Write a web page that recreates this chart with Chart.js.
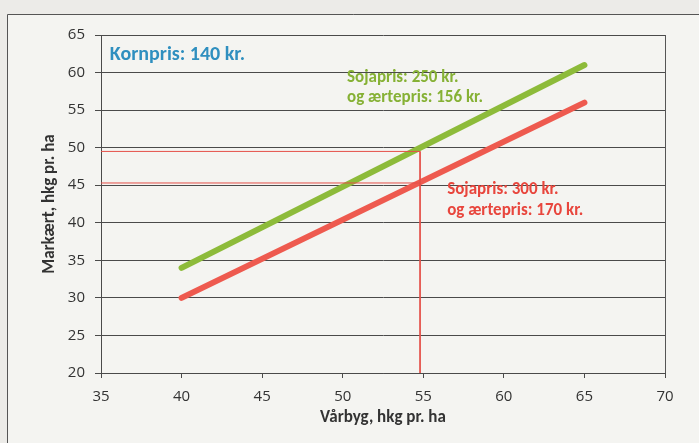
<!DOCTYPE html>
<html>
<head>
<meta charset="utf-8">
<script src="https://cdn.jsdelivr.net/npm/chart.js@4"></script>
<style>
  html, body { margin: 0; padding: 0; background: #ecebe8; }
  #wrap { width: 699px; height: 443px; position: relative; }
</style>
</head>
<body>
<div id="wrap"><canvas id="chart" width="699" height="443"></canvas></div>
<script>
// values
const varbyg = [40, 65];
const markaertLow = [34, 61];   // soja 250 / ærter 156
const markaertHigh = [30, 56];  // soja 300 / ærter 170
const guideX = [35, 54.8, 54.8];
const guideY = [49.5, 49.5, 20];
const guide2X = [35, 54.8];
const guide2Y = [45.3, 45.3];
const xTicks = [35, 40, 45, 50, 55, 60, 65, 70];
const yTicks = [20, 25, 30, 35, 40, 45, 50, 55, 60, 65];

const toPts = (xs, ys) => xs.map((x, i) => ({ x: x, y: ys[i] }));

const notes = [
  { text: "Kornpris: 140 kr.", x: 35.55, y: 62.3, color: "#2f8fbf", size: 20 },
  { text: "Sojapris: 250 kr.", x: 50.27, y: 59.3, color: "#86b135", size: 17 },
  { text: "og ærtepris: 156 kr.", x: 50.27, y: 56.6, color: "#86b135", size: 17 },
  { text: "Sojapris: 300 kr.", x: 56.48, y: 44.4, color: "#e8463d", size: 17 },
  { text: "og ærtepris: 170 kr.", x: 56.48, y: 41.6, color: "#e8463d", size: 17 },
];

const decor = {
  id: "decor",
  beforeDraw(chart) {
    const c = chart.ctx;
    c.save();
    c.fillStyle = "#f4f4f1";
    c.fillRect(8, 15, 699, 443);
    c.strokeStyle = "#555";
    c.lineWidth = 1;
    c.beginPath();
    c.moveTo(7.5, 443);
    c.lineTo(7.5, 14.5);
    c.lineTo(699, 14.5);
    c.stroke();
    c.restore();
  },
  afterDraw(chart) {
    const c = chart.ctx;
    const a = chart.chartArea;
    const xs = chart.scales.x, ys = chart.scales.y;
    c.save();
    c.strokeStyle = "#555";
    c.lineWidth = 1;
    c.beginPath();
    c.moveTo(Math.round(a.right) + 0.5, a.top);
    c.lineTo(Math.round(a.right) + 0.5, a.bottom);
    c.stroke();
    c.textBaseline = "middle";
    notes.forEach((n) => {
      c.font = "bold " + n.size + "px Carlito, 'Liberation Sans', 'Open Sans', sans-serif";
      c.fillStyle = n.color;
      c.fillText(n.text, xs.getPixelForValue(n.x), ys.getPixelForValue(n.y));
    });
    c.restore();
  },
};

new Chart(document.getElementById("chart").getContext("2d"), {
  type: "scatter",
  data: {
    datasets: [
      {
        data: toPts(guideX, guideY),
        showLine: true,
        borderColor: "#e4504a",
        borderWidth: 1,
        pointRadius: 0,
      },
      {
        data: toPts(guide2X, guide2Y),
        showLine: true,
        borderColor: "#e4504a",
        borderWidth: 1,
        pointRadius: 0,
      },
      {
        data: toPts(varbyg, markaertLow),
        showLine: true,
        borderColor: "#8dbb3a",
        borderWidth: 6,
        borderCapStyle: "round",
        pointRadius: 0,
      },
      {
        data: toPts(varbyg, markaertHigh),
        showLine: true,
        borderColor: "#ee5a4f",
        borderWidth: 6,
        borderCapStyle: "round",
        pointRadius: 0,
      },
    ],
  },
  options: {
    responsive: false,
    animation: false,
    layout: { padding: { top: 35, right: 34, left: 0, bottom: 0 } },
    plugins: { legend: { display: false }, tooltip: { enabled: false } },
    scales: {
      x: {
        type: "linear",
        min: 35,
        max: 70,
        afterBuildTicks: (s) => { s.ticks = xTicks.map((v) => ({ value: v })); },
        afterFit: (s) => { s.height = 70; },
        border: { color: "#4a4a4a", width: 1 },
        grid: { drawOnChartArea: false, drawTicks: true, tickLength: 5, color: "#4a4a4a" },
        ticks: { color: "#333", padding: 10, maxRotation: 0, font: { size: 15, family: "'Open Sans', sans-serif" } },
        title: {
          display: true,
          text: "Vårbyg, hkg pr. ha",
          color: "#333",
          padding: { top: 0, bottom: 15 },
          font: { size: 17, weight: "bold", family: "Carlito, 'Liberation Sans', sans-serif" },
        },
      },
      y: {
        type: "linear",
        min: 20,
        max: 65,
        afterBuildTicks: (s) => { s.ticks = yTicks.map((v) => ({ value: v })); },
        afterFit: (s) => { s.width = 101; },
        border: { color: "#4a4a4a", width: 1 },
        grid: { color: "#4a4a4a", lineWidth: 1, drawTicks: true, tickLength: 6 },
        ticks: { color: "#333", padding: 10, font: { size: 15, family: "'Open Sans', sans-serif" } },
        title: {
          display: true,
          text: "Markært, hkg pr. ha",
          color: "#333",
          padding: { top: 40, bottom: 0 },
          font: { size: 17, weight: "bold", family: "Carlito, 'Liberation Sans', sans-serif" },
        },
      },
    },
  },
  plugins: [decor],
});
</script>
</body>
</html>
